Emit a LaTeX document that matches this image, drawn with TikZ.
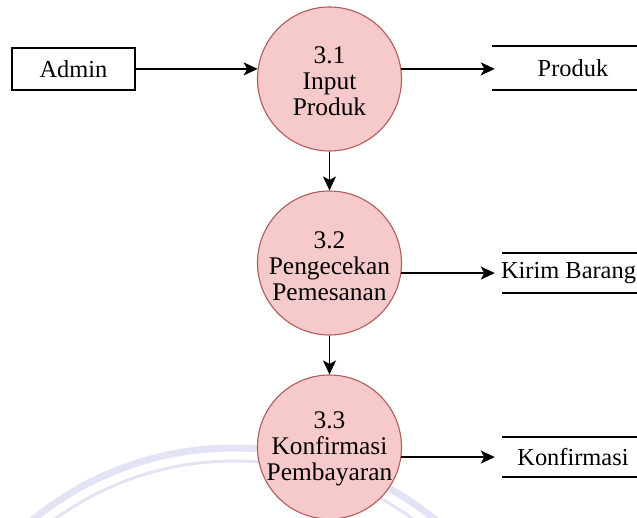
\documentclass[tikz,border=0pt]{standalone}
\usepackage{fontspec}
\setmainfont{Liberation Serif}
\newfontfamily\diagfont{Liberation Serif}
\usetikzlibrary{arrows.meta}

\definecolor{procfill}{HTML}{F6C9CB}
\definecolor{procline}{HTML}{B05A5A}
\definecolor{wmark}{HTML}{E2E3F4}

\tikzset{
  txt/.style={font=\diagfont\fontsize{24.5}{26}\selectfont},
  lbl/.style={font=\diagfont\fontsize{25.5}{26}\selectfont, align=center, inner sep=0pt},
  entity/.style={txt, draw=black, line width=1.4bp, minimum width=123bp,
                 minimum height=42bp, inner sep=0pt},
  process/.style={circle, draw=procline, fill=procfill, line width=1.1bp,
                  minimum size=144bp, inner sep=0pt},
  store/.style={txt, inner sep=0pt, minimum height=40bp},
  storeline/.style={line width=1.9bp},
  flow/.style={line width=1.7bp, -{Stealth[length=14bp,width=13bp,inset=3.5bp]}},
  ring/.style={draw=wmark}
}

\begin{document}
\begin{tikzpicture}[x=1bp, y=-1bp]
  \useasboundingbox (0,0) rectangle (637,518);
  \clip (0,0) rectangle (637,518);

  % faint ring in the background
  \draw[ring, line width=7bp] (234,766) circle[radius=318];
  \draw[ring, line width=3bp] (234,766) circle[radius=305];

  % external entity
  \node[entity] (admin) at (73.5,69) {Admin};

  % processes
  \node[process, label={[lbl, yshift=-2bp]center:3.1\\Input\\Produk}] (p1) at (329.5,79) {};
  \node[process, label={[lbl, yshift=-3bp]center:3.2\\Pengecekan\\Pemesanan}] (p2) at (329.5,263) {};
  \node[process, label={[lbl, yshift=-2bp]center:3.3\\Konfirmasi\\Pembayaran}] (p3) at (329.5,447) {};

  % data stores
  \node[store, minimum width=162bp, minimum height=44bp] (s1) at (573,68) {Produk};
  \node[store, minimum width=142bp] (s2) at (573,273) {};
  \node[txt, inner sep=0pt] (s2t) at (568.5,273) {Kirim Barang};
  \node[store, minimum width=142bp] (s3) at (573,457) {Konfirmasi};
  \foreach \s in {s1,s2,s3}{
    \draw[storeline] (\s.north west) -- (\s.north east);
    \draw[storeline] (\s.south west) -- (\s.south east);
  }

  % data flows
  \draw[flow] (admin.east) -- (p1.172);
  \draw[flow, shorten >=-3bp] (p1.8) -- (p1.8 -| s1.west);
  \draw[flow] (p1.south) -- (p2.north);
  \draw[flow, shorten >=7bp] (p2.-8) -- (p2.-8 -| s2.west);
  \draw[flow] (p2.south) -- (p3.north);
  \draw[flow, shorten >=7bp] (p3.-8) -- (p3.-8 -| s3.west);
\end{tikzpicture}
\end{document}
